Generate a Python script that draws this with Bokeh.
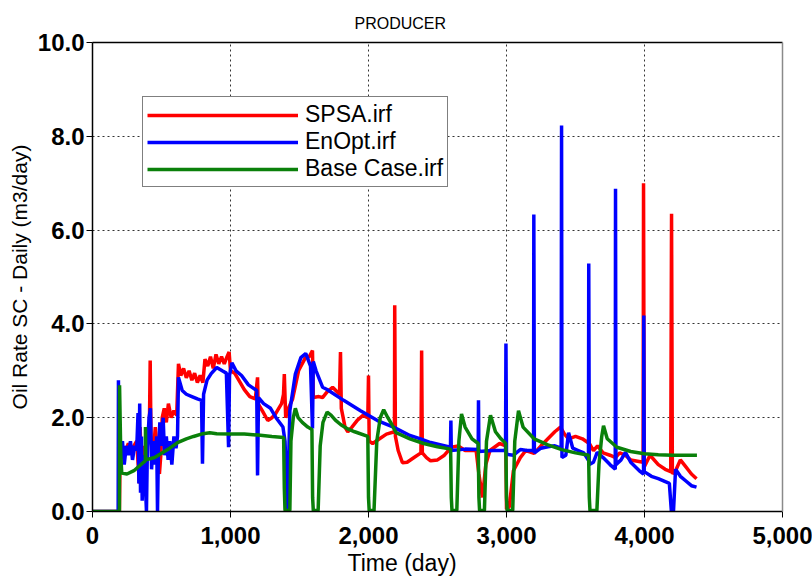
from bokeh.plotting import figure
from bokeh.models import (Legend, LegendItem, LinearAxis, Title,
                          FixedTicker, NumeralTickFormatter, Range1d)
from bokeh.embed import file_html
from bokeh.resources import INLINE

# SPSA.irf  (time in days, oil rate in m3/day)
spsa_day = [0, 195, 200, 217, 240, 260, 280, 300, 320, 340, 345, 355, 370, 385, 400, 412,
            418, 424, 440, 455, 470, 485, 495, 505, 520, 535, 550, 570, 590, 610, 623, 640,
            660, 680, 700, 720, 740, 760, 780, 800, 815, 835, 855, 875, 895, 915, 935, 955,
            975, 990, 1000, 1030, 1060, 1100, 1140, 1180, 1196, 1200, 1230, 1270, 1300, 1326,
            1370, 1384, 1390, 1400, 1420, 1450, 1493, 1543, 1570, 1594, 1600, 1640, 1667,
            1700, 1740, 1790, 1797, 1803, 1830, 1850, 1880, 1920, 1960, 1995, 2000, 2005,
            2030, 2080, 2130, 2188, 2190, 2195, 2215, 2246, 2280, 2330, 2380, 2385, 2390,
            2420, 2450, 2500, 2550, 2600, 2650, 2700, 2780, 2800, 2826, 2850, 2880, 2950,
            2995, 3000, 3020, 3050, 3100, 3140, 3200, 3250, 3300, 3350, 3391, 3420, 3450,
            3500, 3550, 3600, 3630, 3660, 3700, 3750, 3790, 3820, 3860, 3900, 3990, 3993,
            3998, 4040, 4100, 4150, 4190, 4196, 4202, 4230, 4260, 4300, 4340, 4377]
spsa_rate = [0.0, 0.0, 1.2, 1.37, 1.3, 1.45, 1.3, 1.4, 1.5, 0.6, 1.8, 1.0, 1.4, 0.9, 1.5, 1.7,
             3.22, 1.5, 1.2, 1.8, 1.3, 0.8, 1.2, 2.0, 2.2, 1.9, 2.3, 2.0, 2.15, 2.05, 3.15, 2.9,
             3.05, 2.85, 3.0, 2.8, 2.95, 2.75, 2.9, 2.75, 3.25, 3.1, 3.3, 3.05, 3.35, 3.15, 3.3, 3.15,
             3.3, 3.4, 3.0, 2.95, 2.8, 2.6, 2.45, 2.4, 2.86, 2.3, 2.15, 1.94, 2.0, 2.08,
             2.3, 2.5, 2.93, 2.0, 2.2, 2.4, 3.0, 3.28, 3.3, 3.43, 2.43, 2.45, 2.43,
             2.55, 2.65, 2.5, 3.4, 2.2, 1.8, 1.7, 1.8, 1.95, 2.05, 2.0, 2.9, 1.5,
             1.45, 1.55, 1.65, 1.7, 4.4, 1.6, 1.3, 1.04, 1.05, 1.15, 1.25, 3.43, 1.25,
             1.15, 1.08, 1.1, 1.2, 1.37, 1.4, 1.3, 1.3, 0.8, 0.3, 1.0, 1.3, 1.45,
             1.4, 0.05, 0.1, 0.87, 1.15, 1.3, 1.24, 1.4, 1.55, 1.7, 1.8, 1.65, 1.55,
             1.6, 1.55, 1.45, 1.3, 1.4, 1.25, 1.2, 1.15, 1.25, 1.2, 1.1, 1.05, 7.0,
             0.95, 1.2, 1.0, 0.9, 0.85, 6.35, 0.8, 0.9, 1.1, 0.95, 0.8, 0.7]

# EnOpt.irf
enopt_day = [0, 186, 188, 191, 196, 205, 217, 230, 245, 260, 275, 290, 305, 320, 330, 336,
             342, 348, 355, 360, 370, 380, 391, 398, 410, 420, 428, 440, 455, 465, 471, 478,
             488, 500, 512, 522, 535, 548, 560, 575, 590, 605, 616, 623, 650, 680, 720, 760,
             790, 797, 805, 830, 860, 900, 940, 970, 986, 993, 1010, 1040, 1080, 1130, 1190,
             1196, 1203, 1240, 1290, 1330, 1380, 1395, 1413, 1430, 1470, 1510, 1545, 1580,
             1594, 1600, 1620, 1667, 1700, 1820, 1942, 2065, 2181, 2300, 2377, 2450, 2594,
             2597, 2600, 2700, 2795, 2797, 2800, 2900, 2993, 2996, 3000, 3050, 3100, 3150,
             3196, 3198, 3202, 3250, 3300, 3350, 3396, 3399, 3402, 3430, 3450, 3480, 3520,
             3560, 3594, 3596, 3600, 3630, 3657, 3700, 3750, 3788, 3790, 3793, 3830, 3862,
             3900, 3970, 3993, 3995, 3998, 4050, 4100, 4180, 4195, 4210, 4225, 4260, 4300,
             4340, 4377]
enopt_rate = [0.0, 0.0, 2.8, 0.9, 1.7, 1.2, 1.5, 1.0, 1.4, 1.2, 1.5, 1.1, 1.4, 1.3, 2.1, 0.6,
              2.3, 0.4, 1.6, 0.23, 1.2, 0.8, 0.0, 1.4, 2.0, 2.2, 0.9, 1.5, 1.0, 1.6, 0.0, 1.3,
              1.9, 1.4, 2.0, 1.2, 1.6, 1.1, 1.5, 1.0, 1.6, 1.35, 1.6, 2.86, 2.58, 2.5, 2.45, 2.4,
              2.37, 1.02, 2.5, 2.8, 2.94, 3.07, 3.0, 2.95, 1.37, 2.9, 3.17, 3.0, 2.9, 2.7, 2.58,
              0.77, 2.43, 2.3, 2.2, 2.0, 1.8, 1.5, 0.0, 2.15, 2.93, 3.28, 3.37, 3.1,
              1.77, 3.2, 3.0, 2.65, 2.6, 2.37, 2.15, 1.94, 1.8, 1.62, 1.55, 1.47, 1.37,
              1.94, 1.3, 1.33, 1.32, 2.37, 1.28, 1.3, 1.3, 3.58, 1.22, 1.2, 1.32, 1.3,
              1.3, 6.33, 1.25, 1.35, 1.38, 1.4, 1.35, 8.23, 1.15, 1.2, 1.68, 1.35, 1.3,
              1.25, 1.09, 5.29, 1.0, 1.05, 1.26, 1.15, 1.0, 0.9, 6.88, 1.0, 1.1, 1.26,
              1.05, 0.85, 0.8, 4.18, 0.85, 0.75, 0.7, 0.6, 0.0, 0.0, 0.9, 0.75, 0.65,
              0.55, 0.52]

# Base Case.irf
base_day = [0, 195, 196, 205, 212, 250, 300, 370, 383, 384, 386, 450, 500, 560, 616, 680,
            732, 800, 850, 900, 1000, 1100, 1200, 1300, 1385, 1390, 1395, 1430, 1438, 1455,
            1470, 1490, 1520, 1560, 1590, 1595, 1600, 1635, 1650, 1670, 1700, 1730, 1760,
            1800, 1850, 1900, 1995, 2000, 2005, 2040, 2060, 2085, 2110, 2140, 2170, 2200,
            2300, 2400, 2500, 2595, 2600, 2605, 2640, 2655, 2674, 2700, 2750, 2795, 2800,
            2805, 2840, 2855, 2884, 2920, 2960, 2995, 3000, 3005, 3045, 3060, 3087, 3120,
            3200, 3300, 3400, 3500, 3595, 3600, 3605, 3655, 3670, 3690, 3703, 3730, 3800,
            3900, 4000, 4100, 4200, 4380]
base_rate = [0.0, 0.0, 2.69, 1.2, 0.82, 0.8, 0.87, 1.05, 1.08, 1.8, 1.1, 1.15, 1.24, 1.35, 1.47, 1.55,
             1.6, 1.66, 1.68, 1.66, 1.65, 1.65, 1.63, 1.6, 1.58, 0.5, 0.02, 0.02, 1.5, 2.0,
             2.2, 2.0, 1.9, 1.8, 1.75, 0.3, 0.02, 0.02, 1.4, 1.9, 2.12, 2.05, 1.95,
             1.85, 1.76, 1.7, 1.6, 0.3, 0.02, 0.02, 1.5, 2.0, 2.17, 2.0, 1.85, 1.68,
             1.55, 1.45, 1.38, 1.33, 0.3, 0.02, 0.02, 1.5, 2.08, 1.8, 1.55, 1.45, 0.3,
             0.02, 0.02, 1.5, 2.05, 1.7, 1.55, 1.45, 0.3, 0.02, 0.02, 1.5, 2.15, 1.8,
             1.55, 1.42, 1.32, 1.25, 1.2, 0.3, 0.02, 0.02, 1.0, 1.6, 1.83, 1.55, 1.37,
             1.28, 1.23, 1.21, 1.2, 1.2]

x_ticks = [0, 1000, 2000, 3000, 4000, 5000]
y_ticks = [0, 2, 4, 6, 8, 10]

FONT = "Liberation Sans"

p = figure(width=812, height=580, output_backend="svg", toolbar_location=None,
           x_range=Range1d(0, 5000), y_range=Range1d(0, 10),
           min_border_left=92, min_border_right=30, min_border_top=42, min_border_bottom=69)

# chart title, left-aligned with an offset so it sits over the middle of the page
p.title.text = "PRODUCER"
p.title.align = "left"
p.title.offset = 262
p.title.text_font = FONT
p.title.text_font_size = "16px"
p.title.text_font_style = "normal"
p.title.text_color = "black"
p.title.standoff = 22

# series, drawn red -> blue -> green
r_spsa = p.line(spsa_day, spsa_rate, line_color="#ff0000", line_width=3.5)
r_enopt = p.line(enopt_day, enopt_rate, line_color="#0000ff", line_width=3.5)
r_base = p.line(base_day, base_rate, line_color="#0a800a", line_width=3.5)

for ax in (p.xaxis[0], p.yaxis[0]):
    ax.major_label_text_font = FONT
    ax.major_label_text_font_style = "bold"
    ax.major_label_text_font_size = "24px"
    ax.major_label_text_color = "black"
    ax.axis_label_text_font = FONT
    ax.axis_label_text_font_style = "normal"
    ax.axis_label_text_font_size = "21px"
    ax.axis_label_text_color = "black"
    ax.axis_line_color = "black"
    ax.axis_line_width = 1.5
    ax.major_tick_in = 0
    ax.major_tick_out = 6
    ax.major_tick_line_color = "black"
    ax.minor_tick_line_color = None

p.xaxis[0].ticker = FixedTicker(ticks=x_ticks)
p.yaxis[0].ticker = FixedTicker(ticks=y_ticks)
p.xaxis[0].formatter = NumeralTickFormatter(format="0,0")
p.yaxis[0].formatter = NumeralTickFormatter(format="0.0")
p.yaxis[0].axis_label = "Oil Rate SC - Daily (m3/day)"
p.xaxis[0].major_label_standoff = 9
p.yaxis[0].major_label_standoff = 2
p.yaxis[0].axis_label_standoff = 4

# x axis caption as a title below the axis
x_caption = Title(text="Time (day)", align="left", offset=255, standoff=3,
                  text_font=FONT, text_font_size="23px", text_font_style="normal",
                  text_color="black")
p.add_layout(x_caption, "below")

# frame edges: black top, grey right
top_ax = LinearAxis(ticker=FixedTicker(ticks=[]), major_label_text_font_size="0px",
                    axis_line_color="black", axis_line_width=1.5,
                    major_tick_line_color=None, minor_tick_line_color=None)
right_ax = LinearAxis(ticker=FixedTicker(ticks=[]), major_label_text_font_size="0px",
                      axis_line_color="#8a8a8a", axis_line_width=1.5,
                      major_tick_line_color=None, minor_tick_line_color=None)
p.add_layout(top_ax, "above")
p.add_layout(right_ax, "right")

p.outline_line_color = None
p.xgrid.grid_line_color = "#333333"
p.ygrid.grid_line_color = "#333333"
p.xgrid.grid_line_dash = "2 3"
p.ygrid.grid_line_dash = "2 3"
p.xgrid.grid_line_width = 1
p.ygrid.grid_line_width = 1

legend = Legend(items=[LegendItem(label="SPSA.irf", renderers=[r_spsa]),
                       LegendItem(label="EnOpt.irf", renderers=[r_enopt]),
                       LegendItem(label="Base Case.irf", renderers=[r_base])],
                location=(50, 324), orientation="vertical")
legend.label_text_font = FONT
legend.label_text_font_size = "23px"
legend.label_text_color = "black"
legend.glyph_width = 151
legend.glyph_height = 24
legend.label_height = 24
legend.label_standoff = 7
legend.spacing = 0
legend.padding = 4
legend.margin = 0
legend.border_line_color = "black"
legend.border_line_width = 1
legend.background_fill_alpha = 1
p.add_layout(legend, "center")

open("out.html", "w").write(file_html(p, INLINE))
